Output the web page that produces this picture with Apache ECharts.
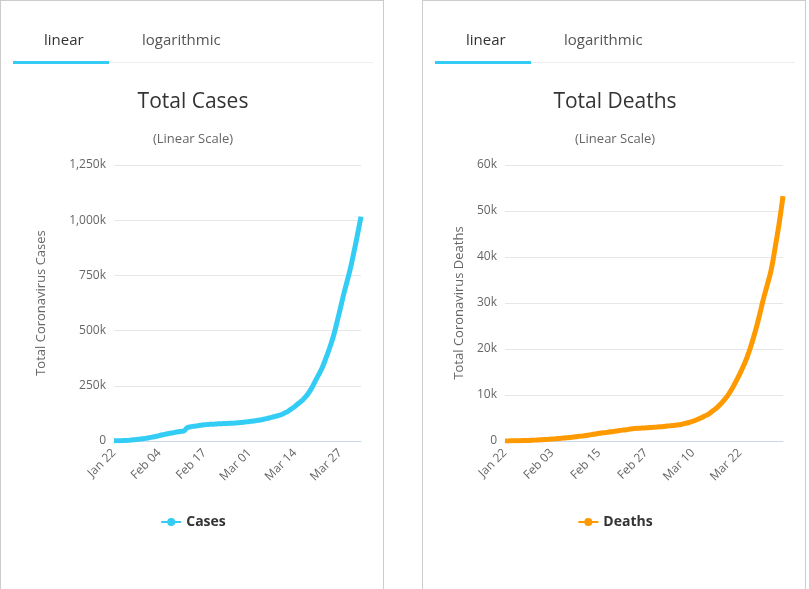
<!DOCTYPE html>
<html>
<head>
<meta charset="utf-8">
<script src="https://cdn.jsdelivr.net/npm/echarts@6/dist/echarts.min.js"></script>
<style>
body { margin: 0; background: #fff; font-family: "Open Sans", sans-serif; }
.panel { position: absolute; top: 0; width: 384px; height: 600px; border: 1px solid #ccc; box-sizing: border-box; }
.chart { position: absolute; left: 0; top: 0; width: 384px; height: 589px; }
.tabs { position: absolute; left: 12px; top: 0; width: 360px; height: 61px; border-bottom: 1px solid #eee; z-index: 2; }
.tab { position: absolute; top: 28px; font-size: 15px; color: #555; }
.tab.on { color: #333; }
.bar { position: absolute; left: 0; top: 60px; width: 96px; height: 3px; }
</style>
</head>
<body>
<div class="panel" style="left:0">
    <div class="tabs"><span class="tab on" style="left:31px">linear</span><span class="tab" style="left:129px">logarithmic</span><div class="bar" style="background:#33ccf5"></div></div>
    <div class="chart" id="cases_show"></div>
</div>
<div class="panel" style="left:422px">
    <div class="tabs"><span class="tab on" style="left:31px">linear</span><span class="tab" style="left:129px">logarithmic</span><div class="bar" style="background:#33ccf5"></div></div>
    <div class="chart" id="deaths_show"></div>
</div>
<script>
// 日期 Jan 22 - Apr 02
var aDate = [];
var months = ['Jan', 'Feb', 'Mar', 'Apr'];
var mdays = [31, 29, 31, 30];
var m = 0, d = 22;
for (var i = 0; i < 72; i++) {
    aDate.push(months[m] + ' ' + (d < 10 ? '0' + d : d));
    d++;
    if (d > mdays[m]) { d = 1; m++; }
}

var aCases = [580, 845, 1317, 2015, 2800, 4581, 6058, 7813, 9823, 11948,
    14551, 17389, 20628, 24553, 28276, 31439, 34876, 37552, 40553, 43099, 45134, 59287, 64438, 67100, 69197, 71329, 73332, 75184, 75700, 76677, 77673, 78651, 79205, 80087, 80828, 81820, 83112, 84615, 86604,
    88585, 90443, 93016, 95314, 98425, 102050, 106099, 109991, 114381, 118948, 126214, 134576, 145483, 156653, 169593, 182490, 198238, 218822, 244933, 275597, 305036, 337489, 378830, 422574, 471035, 531865, 596366, 663127, 723390, 784794, 858371,
    935197, 1016128];

var aDeaths = [17, 25, 41, 56, 80, 106, 132, 170, 213, 259,
    304, 362, 426, 492, 565, 638, 724, 813, 910, 1018, 1115, 1261, 1383, 1526, 1669, 1775, 1873, 2009, 2126, 2247, 2360, 2460, 2618, 2699, 2763, 2800, 2858, 2923, 2977,
    3050, 3117, 3202, 3285, 3387, 3494, 3599, 3827, 4025, 4296, 4628, 4981, 5428, 5833, 6520, 7162, 7979, 8951, 10030, 11386, 12985, 14651, 16505, 18625, 21181, 24073, 27355, 30874, 34007, 37272, 42107,
    47208, 53238];

function makeOpt(title, yName, sName, color, data, max, step, gridLeft, nameGap, labInterval) {
    return {
        textStyle: { fontFamily: 'Open Sans' },
        title: {
            text: title,
            subtext: '(Linear Scale)',
            left: 'center',
            top: 86,
            itemGap: 20,
            textStyle: { fontSize: 21, fontWeight: 'normal', color: '#333' },
            subtextStyle: { fontSize: 13, color: '#666' }
        },
        legend: {
            data: [sName],
            bottom: 56,
            left: 'center',
            itemWidth: 20,
            itemHeight: 10,
            textStyle: { fontSize: 14, fontWeight: 'bold', color: '#333' }
        },
        grid: { left: gridLeft, right: 24, top: 164, bottom: 149 },
        xAxis: {
            type: 'category',
            boundaryGap: false,
            data: aDate,
            axisLine: { lineStyle: { color: '#ccd6eb' } },
            axisTick: { show: false },
            axisLabel: { interval: labInterval, rotate: 45, color: '#666', fontSize: 12, margin: 10 }
        },
        yAxis: {
            type: 'value',
            min: 0, max: max, interval: step,
            name: yName,
            nameLocation: 'middle',
            nameGap: nameGap,
            nameTextStyle: { color: '#666', fontSize: 13 },
            axisLabel: {
                color: '#666', fontSize: 12,
                formatter: function (v) {
                    return v === 0 ? '0' : (v / 1000).toLocaleString('en-US') + 'k';
                }
            },
            splitLine: { lineStyle: { color: '#e6e6e6' } }
        },
        series: [{
            name: sName,
            type: 'line',
            smooth: true,
            symbol: 'circle',
            showSymbol: false,
            symbolSize: 8,
            lineStyle: { width: 5, color: color },
            itemStyle: { color: color },
            data: data
        }]
    };
}

var oCases = echarts.init(document.getElementById('cases_show'));
oCases.setOption(makeOpt('Total Cases', 'Total Coronavirus Cases', 'Cases', '#33ccf5', aCases, 1250000, 250000, 113, 66, 12));

var oDeaths = echarts.init(document.getElementById('deaths_show'));
oDeaths.setOption(makeOpt('Total Deaths', 'Total Coronavirus Deaths', 'Deaths', '#ff9900', aDeaths, 60000, 10000, 82, 36, 11));
</script>
</body>
</html>
